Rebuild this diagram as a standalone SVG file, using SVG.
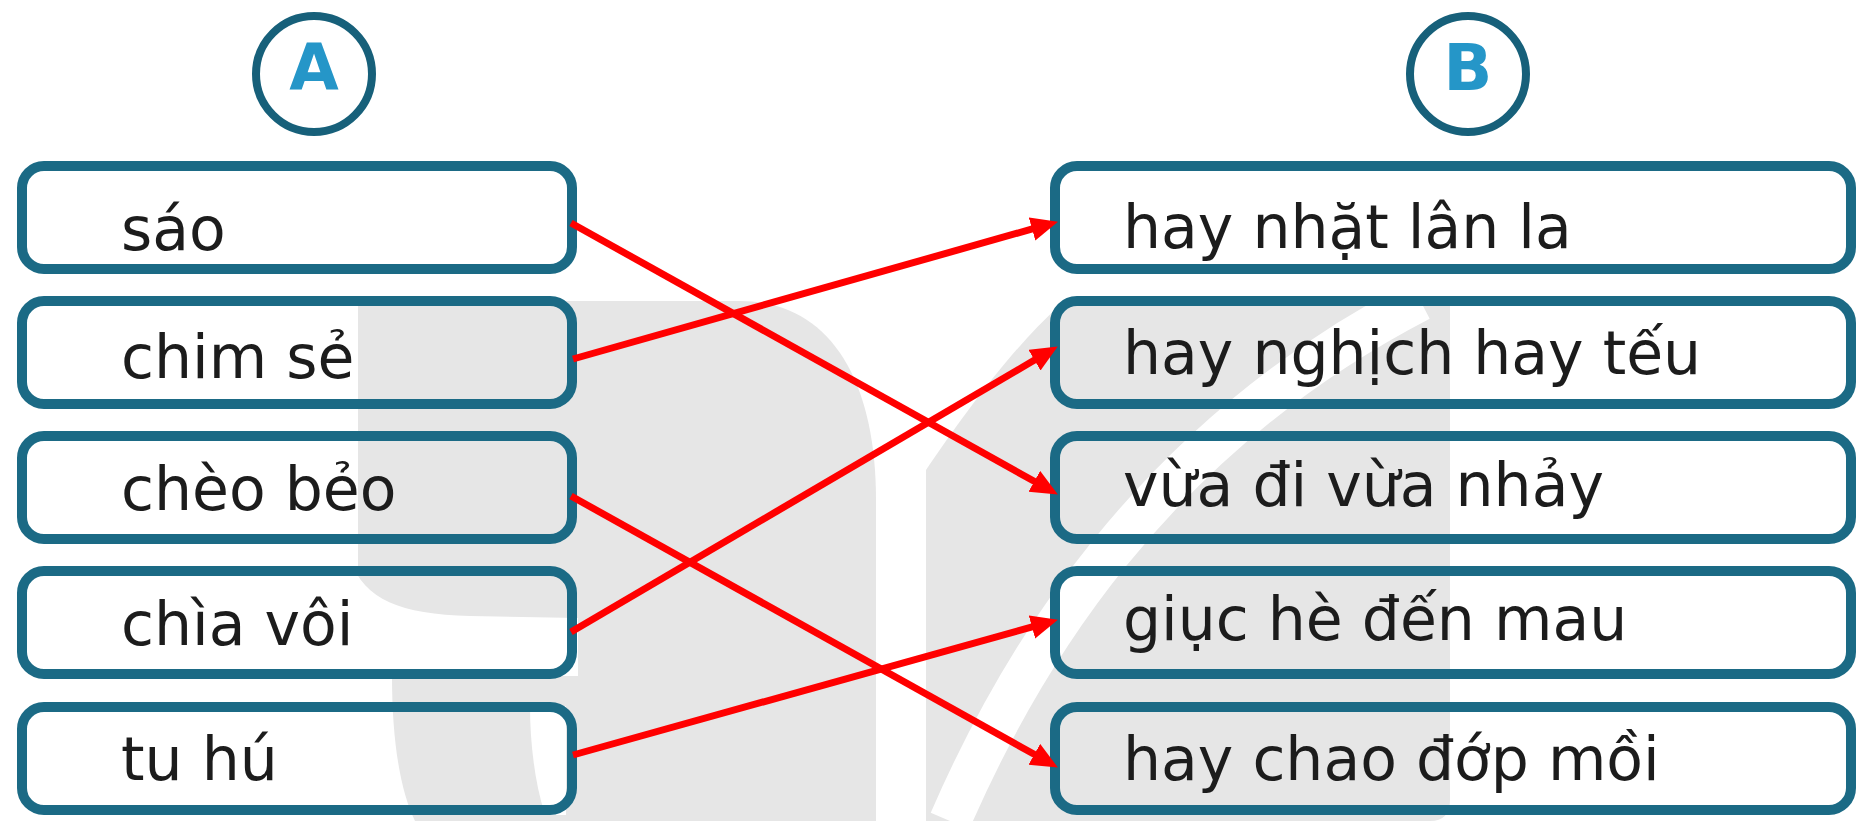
<svg xmlns="http://www.w3.org/2000/svg" width="1857" height="821" viewBox="0 0 1857 821">
  <style>
    .box { fill: none; stroke: #1b6a85; stroke-width: 10; }
    .lbl { font-family: "DejaVu Sans", "Liberation Sans", sans-serif; font-size: 60px; fill: #1c1c1c; }
    .head { font-family: "DejaVu Sans", "Liberation Sans", sans-serif; font-size: 64px; font-weight: bold; fill: #2596c8; text-anchor: middle; }
    .ring { fill: #ffffff; stroke: #17607a; stroke-width: 8; }
    .wm { fill: #e6e6e6; }
    .wmw { fill: #ffffff; }
    .conn { stroke: #ff0000; stroke-width: 7; fill: none; marker-end: url(#arr); }
  </style>
  <defs>
    <marker id="arr" markerUnits="userSpaceOnUse" markerWidth="30" markerHeight="26" refX="4" refY="12" orient="auto">
      <path d="M0,0 L27,12 L0,24 Z" fill="#ff0000"/>
    </marker>
  </defs>
  <rect width="1857" height="821" fill="#ffffff"/>

  <g id="watermark">
    <path class="wm" d="M358,301 H740 C830,301 876,380 876,500 V821 H358 Z"/>
    <path class="wmw" d="M350,560 C365,600 400,614 470,616 L578,618 L578,676 L350,676 Z"/>
    <path class="wmw" d="M350,676 L392,676 C392,740 400,790 415,821 L350,821 Z"/>
    <path class="wmw" d="M530,706 L566,706 L566,815 L545,815 C534,780 530,740 530,706 Z"/>
    <path class="wm" d="M926,821 V470 C960,420 1010,350 1060,305 H1450 V800 Q1450,821 1430,821 Z"/>
    <path fill="none" stroke="#ffffff" stroke-width="42" d="M950,821 C1020,660 1150,440 1420,300"/>
  </g>

  <g id="headA">
    <circle class="ring" cx="314" cy="74" r="58"/>
    <text class="head" x="314" y="90">A</text>
  </g>
  <g id="headB">
    <circle class="ring" cx="1468" cy="74" r="58"/>
    <text class="head" x="1468" y="90">B</text>
  </g>

  <g id="a1"><rect class="box" x="22" y="166" width="550" height="103" rx="22"/><text class="lbl" x="121" y="250">sáo</text></g>
  <g id="a2"><rect class="box" x="22" y="301" width="550" height="103" rx="22"/><text class="lbl" x="121" y="378">chim sẻ</text></g>
  <g id="a3"><rect class="box" x="22" y="436" width="550" height="103" rx="22"/><text class="lbl" x="121" y="510">chèo bẻo</text></g>
  <g id="a4"><rect class="box" x="22" y="571" width="550" height="103" rx="22"/><text class="lbl" x="121" y="645">chìa vôi</text></g>
  <g id="a5"><rect class="box" x="22" y="707" width="550" height="103" rx="22"/><text class="lbl" x="121" y="780">tu hú</text></g>

  <g id="b1"><rect class="box" x="1055" y="166" width="796" height="103" rx="22"/><text class="lbl" x="1123" y="248">hay nhặt lân la</text></g>
  <g id="b2"><rect class="box" x="1055" y="301" width="796" height="103" rx="22"/><text class="lbl" x="1123" y="374">hay nghịch hay tếu</text></g>
  <g id="b3"><rect class="box" x="1055" y="436" width="796" height="103" rx="22"/><text class="lbl" x="1123" y="506">vừa đi vừa nhảy</text></g>
  <g id="b4"><rect class="box" x="1055" y="571" width="796" height="103" rx="22"/><text class="lbl" x="1123" y="640">giục hè đến mau</text></g>
  <g id="b5"><rect class="box" x="1055" y="707" width="796" height="103" rx="22"/><text class="lbl" x="1123" y="780">hay chao đớp mồi</text></g>

  <g id="connectors">
    <line class="conn" x1="571" y1="223" x2="1037.8" y2="483.3"/>
    <line class="conn" x1="573" y1="359" x2="1035.9" y2="227.9"/>
    <line class="conn" x1="571" y1="496" x2="1037.8" y2="756.3"/>
    <line class="conn" x1="571" y1="632" x2="1037.9" y2="358.1"/>
    <line class="conn" x1="573" y1="755" x2="1035.8" y2="625.9"/>
  </g>
</svg>
